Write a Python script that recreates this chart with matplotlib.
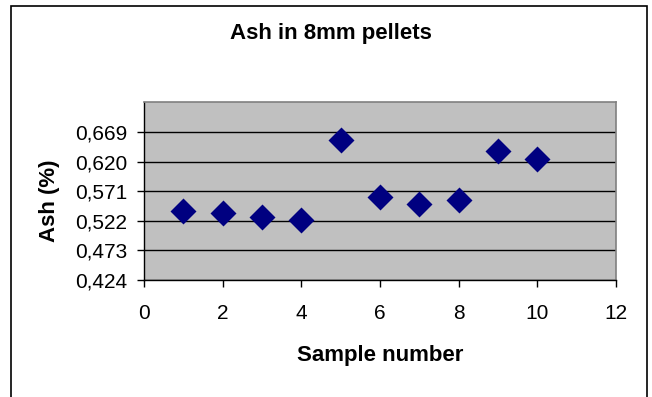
import matplotlib
matplotlib.use("Agg")
import matplotlib.pyplot as plt
from matplotlib.patches import Rectangle
from matplotlib.ticker import FixedLocator, FuncFormatter

plt.rcParams['font.family'] = ['Liberation Sans', 'DejaVu Sans']

title = "Ash in 8mm pellets"
x_label = "Sample number"
y_label = "Ash (%)"
sample = [1, 2, 3, 4, 5, 6, 7, 8, 9, 10]
ash = [0.538, 0.535, 0.529, 0.523, 0.656, 0.562, 0.550, 0.556, 0.637, 0.625]
y_ticks = [0.424, 0.473, 0.522, 0.571, 0.620, 0.669]
x_ticks = [0, 2, 4, 6, 8, 10, 12]

W, H = 652, 397
fig = plt.figure(figsize=(W / 100, H / 100), dpi=100)
fig.patches.append(Rectangle((11 / W, -0.01), 636 / W, 1 - 6 / H + 0.01,
                             transform=fig.transFigure, fill=False,
                             edgecolor='black', linewidth=1.2))

ax = fig.add_axes([144 / W, 117 / H, 472 / W, 177.7 / H])
ax.set_facecolor('#C0C0C0')
ax.set_xlim(0, 12)
ax.set_ylim(0.424, 0.718)
ax.yaxis.set_major_locator(FixedLocator(y_ticks))
ax.xaxis.set_major_locator(FixedLocator(x_ticks))
ax.yaxis.set_major_formatter(FuncFormatter(lambda v, p: f"{v:.3f}".replace('.', ',')))
ax.grid(axis='y', color='black', linewidth=1.0)
ax.set_axisbelow(True)

for s in ['top', 'right']:
    ax.spines[s].set_color('#808080')
    ax.spines[s].set_linewidth(1.2)
for s in ['left', 'bottom']:
    ax.spines[s].set_color('black')
    ax.spines[s].set_linewidth(1.0)

ax.tick_params(axis='both', direction='out', length=5, width=1, labelsize=15, colors='black')
ax.tick_params(axis='y', pad=7)
ax.tick_params(axis='x', pad=12)

ax.scatter(sample, ash, marker='D', s=175, color='#000080', zorder=3, linewidths=0)

fig.text(380 / W, 1 - 356 / H, x_label, ha='center', va='center', fontsize=16, fontweight='bold')
fig.text(50 / W, 1 - 201 / H, y_label, ha='center', va='center', rotation=90,
         fontsize=16, fontweight='bold')
fig.text(330.5 / W, 1 - 33 / H, title, ha='center', va='center', fontsize=16, fontweight='bold')

fig.savefig("out.png", dpi=100)
